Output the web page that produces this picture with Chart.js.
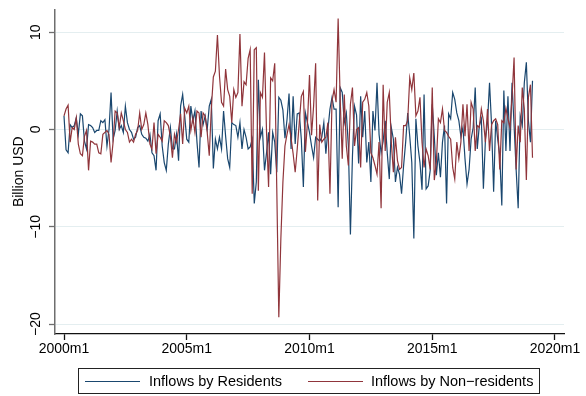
<!DOCTYPE html>
<html>
<head>
<meta charset="utf-8">
<title>Inflows</title>
<script src="https://cdn.jsdelivr.net/npm/chart.js@4/dist/chart.umd.min.js"></script>
<style>
  html, body { margin: 0; padding: 0; background: #fff; }
  #wrap { position: relative; width: 586px; height: 396px; }
  #legend {
    position: absolute; left: 78px; top: 368px; width: 460px; height: 24px;
    border: 1px solid #222; display: flex; align-items: center;
    font-family: "Liberation Sans", Arial, Helvetica, sans-serif; font-size: 14.5px;
    color: #000; white-space: nowrap;
  }
  #legend .key { display: flex; align-items: center; }
  #legend .swatch { width: 55px; height: 0; border-top: 1px solid; }
</style>
</head>
<body>
<div id="wrap">
  <canvas id="myChart" width="586" height="396"></canvas>
  <div id="legend"></div>
</div>
<script>
// monthly values, 2000m1 .. 2019m2 (index = months since 2000m1)
var residents = [
    1.4, -2.1, -2.4, 0.5, 0.2, 0.4, 1.2, -0.5, 1.6, 1.4, -1.2, -2.0,
    0.5, 0.4, 0.2, -0.3, -0.1, -0.1, 0.9, 0.7, 1.0, -1.7, 0.0, 3.8,
    -1.0, -0.1, 1.9, 0.0, 0.4, -0.3, 2.4, 0.7, 0.0, -0.3, -1.0, -0.8,
    0.2, 0.4, -0.5, -0.8, -0.9, -1.2, -0.5, -2.4, -2.7, -4.2, 0.9, 1.6,
    -1.7, -3.4, -4.2, -1.5, 0.2, -2.0, -2.0, -0.5, -3.2, 2.4, 3.6, 1.4,
    -1.0, -1.3, 2.4, 0.9, 1.9, -1.3, -3.9, 1.9, 0.5, 1.4, 0.0, 2.4,
    3.1, -4.0, -1.0, -2.0, -0.8, -2.0, 1.9, -0.7, -3.0, -3.9, 0.7, 0.5,
    0.4, -0.8, 0.7, -2.0, 0.0, -0.8, -2.0, -1.8, -1.0, -7.6, -5.4, 5.1,
    -0.8, 0.0, -4.2, -2.4, -0.3, -4.6, -0.3, -1.3, -4.4, 3.3, 3.0, 2.0,
    -0.9, 1.0, 3.7, -2.0, 3.4, -1.5, 1.6, 1.7, -1.0, -5.9, 1.7, 0.7,
    -0.3, -1.7, -2.9, -0.8, -1.0, -1.2, -0.8, 0.7, -2.5, 0.0, 2.1, 3.3,
    2.1, 2.1, -8.0, 4.3, 3.8, 0.7, 1.7, -1.7, -10.8, -2.7, 2.4, 1.5,
    -3.5, 3.4, -0.8, 1.9, -3.4, -1.3, -5.4, 1.9, -0.1, 4.8, -0.5, -2.4,
    -1.2, 0.9, -2.4, -5.1, 0.2, -1.0, -5.4, -3.9, -4.6, -6.6, -3.7, -1.3,
    1.7, -0.7, -3.4, -11.2, 1.1, -1.7, -3.4, -6.2, 3.6, -6.1, -5.8, -4.2,
    2.6, -0.7, -4.7, -2.4, -4.9, -1.3, 0.4, -7.6, 1.6, 1.1, 3.8, 3.1,
    1.7, 0.9, -0.7, 0.2, -3.0, -5.6, -4.1, -1.0, 0.2, 4.3, -2.0, 0.4,
    1.1, -6.1, -1.0, 0.7, 4.8, 0.4, -6.4, 0.9, -1.0, -2.7, -7.8, 4.0,
    -2.2, 3.4, -2.2, 4.8, 0.4, -4.1, -8.1, 1.4, 0.4, 4.8, 6.9, 0.9,
    -1.3, 5.0
];
var nonResidents = [
    1.4, 2.1, 2.5, -1.3, 0.2, 0.0, 1.2, -1.5, -2.5, -2.7, -0.7, -0.1,
    -4.2, -1.2, -1.3, -1.5, -1.5, -2.4, -2.5, -0.5, -0.3, -0.1, -0.5, -3.4,
    -1.3, 1.9, 1.7, 0.2, 1.7, 0.9, 0.0, -0.3, -1.3, -1.0, -1.3, -0.5,
    -0.1, 1.7, 0.0, 0.5, 1.7, 0.5, -1.5, -2.0, 0.7, -2.5, -0.5, -0.8,
    -1.2, 0.9, 0.7, 0.4, -0.7, -2.9, -0.5, -1.3, 0.0, 1.6, -1.5, 2.2,
    1.7, 2.4, -0.1, 1.2, -0.3, 1.9, 1.7, -0.8, 1.7, 1.4, -0.3, -2.7,
    2.1, 5.4, 6.0, 9.7, 5.5, 2.8, 2.4, 6.2, 4.1, 3.4, 0.7, 4.1,
    3.3, 3.8, 9.8, 2.4, 4.9, 4.6, 7.3, 8.2, -6.6, 8.2, 8.4, -6.3,
    3.8, 3.3, 7.9, -0.3, -5.9, 5.3, 5.0, 6.8, -6.0, -19.3, -11.2, -5.4,
    -1.7, -0.5, 0.5, -0.9, -2.5, -4.4, -2.0, 0.7, 3.4, 3.9, -2.3, 0.7,
    5.6, -0.6, 2.4, 6.8, -7.3, 0.5, -1.3, -1.0, -0.8, 0.7, -6.6, 2.9,
    4.1, 2.8, 11.4, 3.1, -3.0, 3.6, -1.7, -3.7, 2.6, 4.3, -1.7, 0.0,
    0.2, -3.9, 2.8, 3.1, 3.8, 2.4, -2.4, -2.9, -3.7, -4.6, -1.3, -8.1,
    4.6, -2.2, 2.8, 3.8, -1.3, -4.4, -0.8, -3.2, -4.1, -3.9, 0.4, 0.4,
    0.9, 5.3, 4.1, 5.8, 1.4, 1.9, 3.3, -1.3, -3.9, -2.0, -2.7, -4.1,
    4.3, -5.2, -3.4, 1.1, 0.7, 2.1, -0.1, -0.3, -0.7, -1.0, -3.9, -5.1,
    -1.3, -3.0, -1.3, 2.6, -0.7, 2.6, -2.2, 2.8, 2.1, -2.2, 0.4, 0.2,
    2.1, 0.9, -1.3, 2.1, -2.2, 0.5, 0.9, 1.1, 0.5, -4.1, 0.9, 0.7,
    2.2, 1.1, 0.2, 3.3, 7.4, -4.1, 0.4, -1.3, 4.3, 2.1, -5.2, 3.3,
    4.6, -2.9
];
var seriesNames = ['Inflows by Residents', 'Inflows by Non\u2212residents'];
var seriesColors = ['#1a476f', '#90353b'];
var xTickVals = [0, 60, 120, 180, 240];
var xTickLabels = ['2000m1', '2005m1', '2010m1', '2015m1', '2020m1'];
var yTickVals = [10, 0, -10, -20];
var yTickLabels = ['10', '0', '\u221210', '\u221220'];
var yTitle = 'Billion USD';

var fontFamily = '"Liberation Sans", Arial, Helvetica, sans-serif';

function toPoints(values) {
    return values.map(function (v, i) {
        return {x: i, y: v};
    });
}

// html legend in a box under the plot, like the Stata one
function buildLegend(chart, el) {
    var gaps = [[6, 9], [20, 8]];
    chart.data.datasets.forEach(function (ds, i) {
        var key = document.createElement('span');
        key.className = 'key';
        key.style.marginLeft = gaps[i][0] + 'px';
        var sw = document.createElement('span');
        sw.className = 'swatch';
        sw.style.borderTopColor = ds.borderColor;
        sw.style.marginLeft = '6px';
        sw.style.marginRight = gaps[i][1] + 'px';
        if (i === 0) sw.style.marginLeft = '0px';
        var txt = document.createElement('span');
        txt.textContent = ds.label;
        key.appendChild(sw);
        key.appendChild(txt);
        el.appendChild(key);
    });
}

var ctx = document.getElementById('myChart');

var myChart = new Chart(ctx, {
    type: 'line',
    data: {
        datasets: [{
                label: seriesNames[0],
                data: toPoints(residents),
                borderColor: seriesColors[0],
                backgroundColor: seriesColors[0],
                borderWidth: 1.2,
                pointRadius: 0,
                lineTension: 0,
                fill: false,
                order: 2
            }, {
                label: seriesNames[1],
                data: toPoints(nonResidents),
                borderColor: seriesColors[1],
                backgroundColor: seriesColors[1],
                borderWidth: 1.2,
                pointRadius: 0,
                lineTension: 0,
                fill: false,
                order: 1
            }]
    },
    options: {
        responsive: false,
        animation: false,
        devicePixelRatio: 1,
        layout: {padding: {top: 6, right: 22, left: 0, bottom: 0}},
        plugins: {
            tooltip: {enabled: false},
            legend: {display: false}
        },
        scales: {
            x: {
                type: 'linear',
                min: -4.4,
                max: 244.4,
                afterBuildTicks: function (scale) {
                    scale.ticks = xTickVals.map(function (v) {
                        return {value: v};
                    });
                },
                afterFit: function (scale) {
                    scale.height = 62;
                },
                ticks: {
                    autoSkip: false,
                    maxRotation: 0,
                    minRotation: 0,
                    padding: 1,
                    color: '#000',
                    font: {family: fontFamily, size: 14},
                    callback: function (value) {
                        return xTickLabels[xTickVals.indexOf(value)];
                    }
                },
                grid: {
                    drawOnChartArea: false,
                    drawTicks: true,
                    tickLength: 6,
                    tickColor: '#111',
                    tickWidth: 1.3
                },
                border: {color: '#111', width: 1.3}
            },
            y: {
                min: -21.02,
                max: 12.34,
                afterBuildTicks: function (scale) {
                    scale.ticks = yTickVals.map(function (v) {
                        return {value: v};
                    });
                },
                afterFit: function (scale) {
                    scale.width = 55;
                },
                ticks: {
                    autoSkip: false,
                    minRotation: 90,
                    maxRotation: 90,
                    crossAlign: 'center',
                    padding: 1,
                    color: '#000',
                    font: {family: fontFamily, size: 14},
                    callback: function (value) {
                        return yTickLabels[yTickVals.indexOf(value)];
                    }
                },
                grid: {
                    color: '#e4eef0',
                    lineWidth: 1,
                    drawTicks: true,
                    tickLength: 6,
                    tickColor: '#6e6e6e',
                    tickWidth: 1.3
                },
                border: {color: '#6e6e6e', width: 1.5},
                title: {
                    display: true,
                    text: yTitle,
                    color: '#000',
                    font: {family: fontFamily, size: 14},
                    padding: {top: 11, bottom: 0}
                }
            }
        }
    }
});

buildLegend(myChart, document.getElementById('legend'));
</script>
</body>
</html>
